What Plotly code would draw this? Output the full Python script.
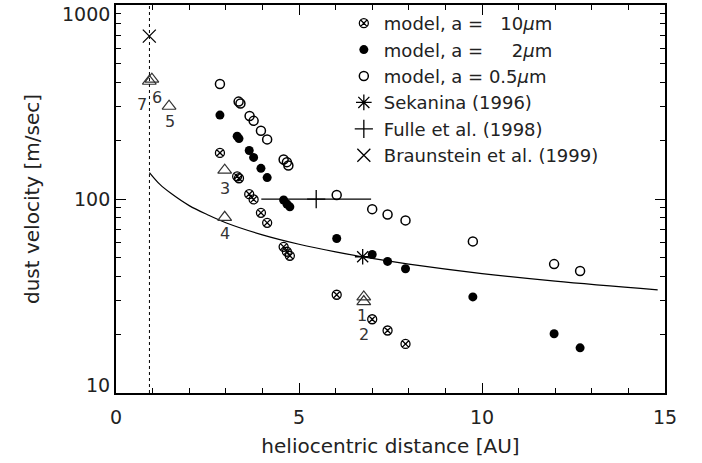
import math
import plotly.graph_objects as go

# model grains, a = 10 micron (crossed circles)
r_10 = [2.84, 3.31, 3.36, 3.64, 3.76, 3.96, 4.13, 4.58, 4.67, 4.75, 6.03, 7.00, 7.42, 7.91]
v_10 = [173, 131, 128, 106, 99.5, 84.9, 75.4, 56.7, 53.5, 51.0, 32.1, 24.0, 21.0, 17.9]

# model grains, a = 2 micron (filled circles)
r_2 = [2.84, 3.31, 3.36, 3.64, 3.76, 3.96, 4.13, 4.58, 4.67, 4.75, 6.03, 7.00, 7.42, 7.91, 9.75, 11.97, 12.68]
v_2 = [271, 211, 205, 178, 164, 144, 129, 98.9, 94.3, 91.2, 62.6, 51.8, 47.7, 43.7, 31.3, 20.2, 17.1]

# model grains, a = 0.5 micron (open circles)
r_05 = [2.84, 3.35, 3.40, 3.65, 3.76, 3.96, 4.13, 4.58, 4.67, 4.71, 6.03, 7.00, 7.42, 7.91, 9.75, 11.97, 12.68]
v_05 = [392, 318, 311, 268, 253, 225, 203, 160, 155, 149, 105, 88.7, 83.3, 77.6, 60.5, 46.2, 42.6]

# numbered observations (triangles)
obs_id = ["1", "2", "3", "4", "5", "6", "7"]
obs_r = [6.77, 6.77, 2.97, 2.97, 1.45, 0.98, 0.91]
obs_v = [31.3, 29.6, 141, 80.5, 301, 415, 405]
# label offsets in pixels (dx, dy)
obs_dx = [-2, 0, 0, 0, 1, 5, -7]
obs_dy = [-19, -33, -18, -16, -15, -18, -23]

# literature values
sek_r, sek_v = [6.74], [50.4]
fulle_r, fulle_v, fulle_err = [5.47], [100], [1.5]
braun_r, braun_v = [0.91], [692]

# fitted curve
curve_r = [0.914, 1.2, 1.5, 2.0, 2.5, 3.0, 4.0, 5.0, 6.0, 7.0, 8.0, 10.0, 12.0, 14.8]
curve_v = [137, 119, 107, 92.5, 83, 75.5, 65.4, 58.5, 53.4, 49.4, 46.2, 41.3, 37.7, 34.0]

perihelion = 0.914

y_major = [10, 100, 1000]
y_label_shift = [8, 0, -9]   # IDL nudges the end labels inward
y_minor = [20, 30, 40, 50, 60, 70, 80, 90, 200, 300, 400, 500, 600, 700, 800, 900]

FONT = "DejaVu Sans"
INK = "black"
TXT = "#222"

fig = go.Figure()

fig.add_trace(go.Scatter(x=curve_r, y=curve_v, mode="lines", line=dict(color=INK, width=1.2, shape="spline"),
                         showlegend=False, hoverinfo="skip"))

fig.add_trace(go.Scatter(x=obs_r, y=obs_v, mode="markers", showlegend=False,
                         marker=dict(symbol="triangle-up-open", size=12, color="#333", line=dict(width=1.2))))

fig.add_trace(go.Scatter(x=r_10, y=v_10, mode="markers", name="model, a =\u00a0\u00a0 10<i>\u03bc</i>m",
                         marker=dict(symbol="circle-x-open", size=9, color=INK, line=dict(width=1.3))))
fig.add_trace(go.Scatter(x=r_2, y=v_2, mode="markers", name="model, a =\u00a0\u00a0\u00a0\u00a0 2<i>\u03bc</i>m",
                         marker=dict(symbol="circle", size=9, color=INK)))
fig.add_trace(go.Scatter(x=r_05, y=v_05, mode="markers", name="model, a = 0.5<i>\u03bc</i>m",
                         marker=dict(symbol="circle-open", size=9, color=INK, line=dict(width=1.5))))
fig.add_trace(go.Scatter(x=sek_r, y=sek_v, mode="markers", name="Sekanina (1996)",
                         marker=dict(symbol="asterisk-open", size=13, color=INK, line=dict(width=1.3))))
fig.add_trace(go.Scatter(x=fulle_r, y=fulle_v, mode="markers", name="Fulle et al. (1998)",
                         error_x=dict(type="data", array=fulle_err, width=0, thickness=1.2, color=INK),
                         marker=dict(symbol="cross-thin-open", size=13, color=INK, line=dict(width=1.3))))
fig.add_trace(go.Scatter(x=braun_r, y=braun_v, mode="markers", name="Braunstein et al. (1999)",
                         marker=dict(symbol="x-thin-open", size=13, color=INK, line=dict(width=1.3))))

fig.add_vline(x=perihelion, line=dict(color=INK, width=1, dash="dot"))

# numbers under the triangles (annotation y on a log axis is log10)
for i, lab in enumerate(obs_id):
    fig.add_annotation(x=obs_r[i], y=math.log10(obs_v[i]), text=lab, showarrow=False,
                       xshift=obs_dx[i], yshift=obs_dy[i],
                       font=dict(family=FONT, size=16, color="#333"))

# y tick labels, placed like the IDL original
for v, sh in zip(y_major, y_label_shift):
    fig.add_annotation(xref="paper", x=0, y=math.log10(v), text=str(v), showarrow=False,
                       xanchor="right", xshift=-4, yshift=sh,
                       font=dict(family=FONT, size=19, color=TXT))

tickstyle = dict(ticks="inside", tickcolor=INK, tickwidth=1.2, ticklen=10)
minorstyle = dict(ticks="inside", tickcolor=INK, tickwidth=1.2, ticklen=5)
frame = dict(showgrid=False, zeroline=False, showline=True, linecolor=INK, linewidth=1.5, automargin=False)

fig.update_layout(
    width=702, height=463,
    margin=dict(l=116, r=37, t=5, b=70),
    plot_bgcolor="white", paper_bgcolor="white",
    showlegend=True,
    legend=dict(x=0.415, y=1.0, xanchor="left", yanchor="top", bgcolor="rgba(0,0,0,0)",
                font=dict(family=FONT, size=18, color=TXT), itemwidth=30, tracegroupgap=0),
    xaxis=dict(range=[0, 15], tickvals=[0, 5, 10, 15], minor=dict(dtick=1, **minorstyle),
               tickfont=dict(family=FONT, size=19, color=TXT), ticklabelstandoff=6,
               title=dict(text="heliocentric distance [AU]", standoff=12,
                          font=dict(family=FONT, size=20, color=TXT)),
               **tickstyle, **frame),
    yaxis=dict(type="log", range=[1, 3.0005], tickvals=y_major, showticklabels=False,
               minor=dict(tickmode="array", tickvals=y_minor, **minorstyle),
               title=dict(text="dust velocity [m/sec]", standoff=69,
                          font=dict(family=FONT, size=20, color=TXT)),
               **tickstyle, **frame),
    # mirrored axes for ticks on top and right
    xaxis2=dict(overlaying="x", side="top", range=[0, 15], tickvals=[0, 5, 10, 15], showticklabels=False,
                minor=dict(dtick=1, **minorstyle), **tickstyle, **frame),
    yaxis2=dict(overlaying="y", side="right", type="log", range=[1, 3.0005], tickvals=y_major,
                showticklabels=False, minor=dict(tickmode="array", tickvals=y_minor, **minorstyle),
                **tickstyle, **frame),
)

# invisible helper trace so the mirrored axes are drawn
fig.add_trace(go.Scatter(x=[None], y=[None], xaxis="x2", yaxis="y2", showlegend=False, hoverinfo="skip"))

# drop the default page margin so the figure sits at the window's corner
fig.write_html("out.html", config={"displayModeBar": False},
               post_script="document.body.style.margin='0';")
